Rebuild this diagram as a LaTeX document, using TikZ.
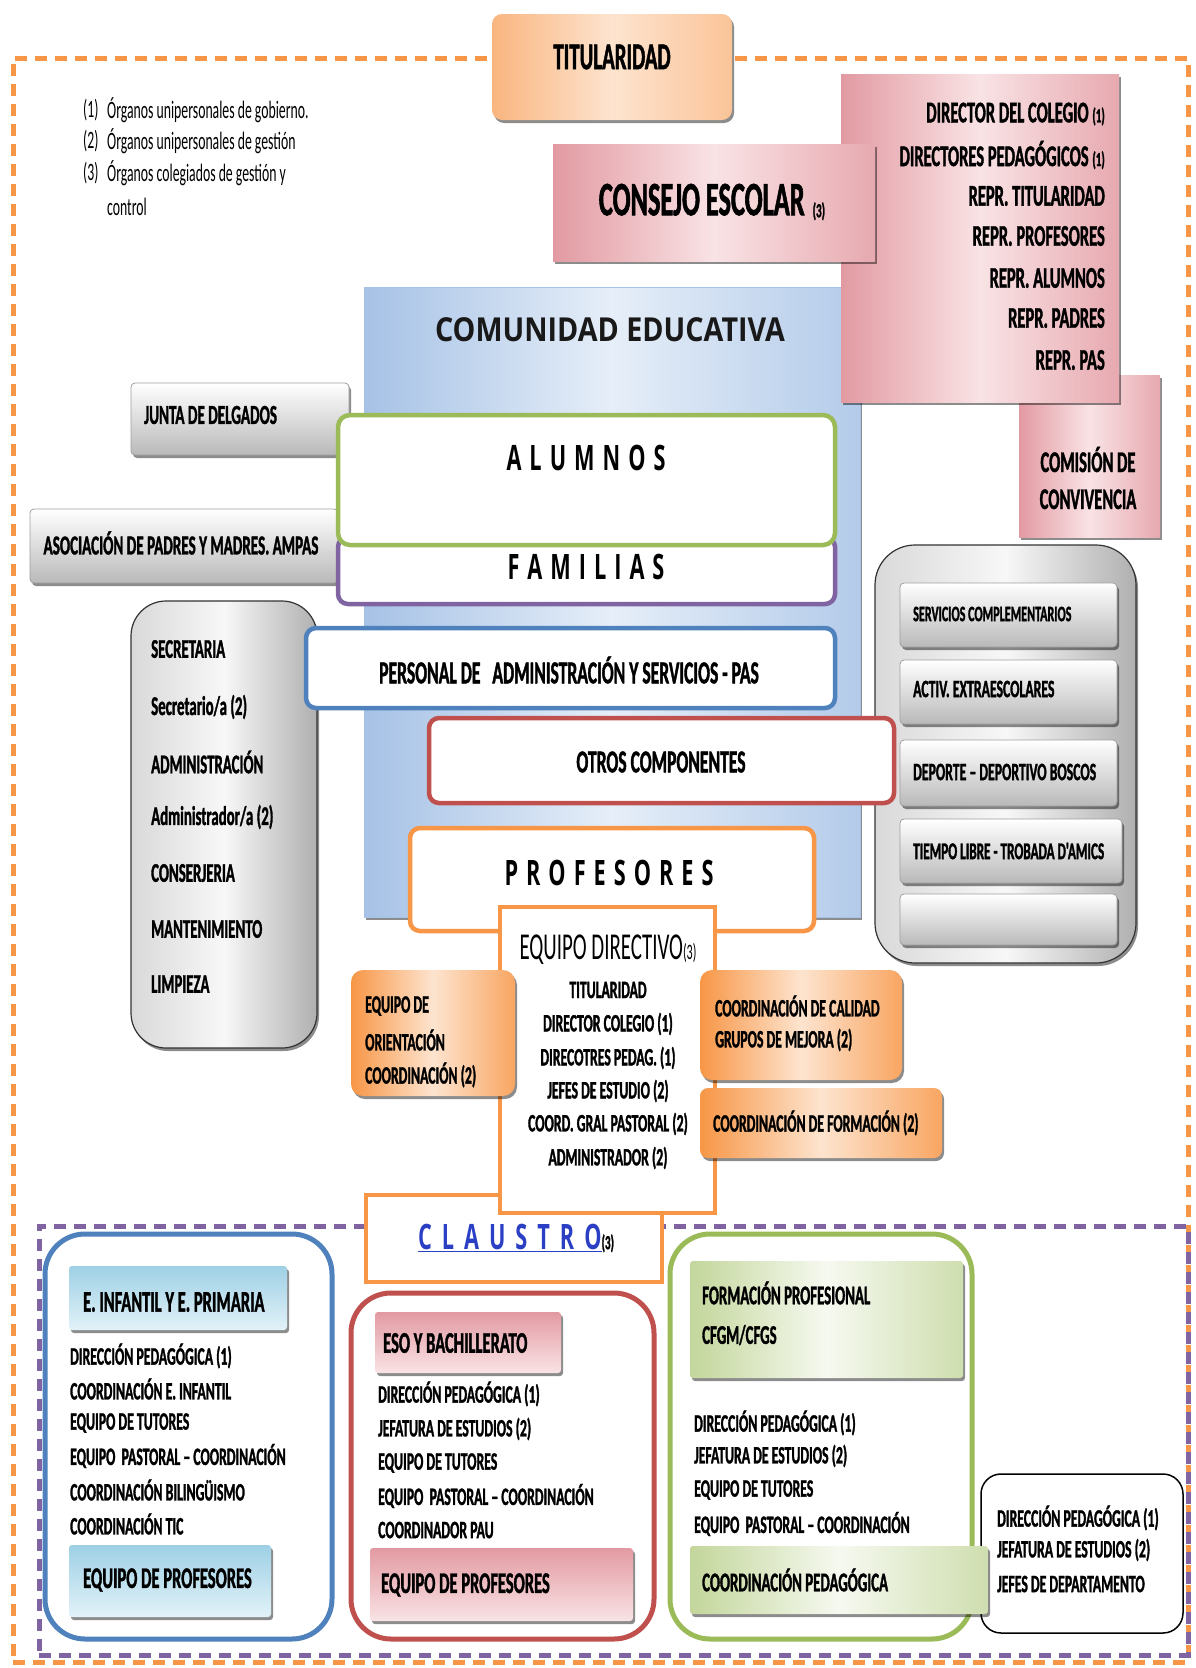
\documentclass[tikz,border=0pt]{standalone}
\usepackage{fontspec}
\usepackage{graphicx}
\usetikzlibrary{shadows,fit}
\newfontfamily\cfont{Carlito}[FakeStretch=0.55, BoldFeatures={FakeBold=1.2}]
\newfontfamily\ofont[FakeStretch=0.62]{Open Sans}
\newfontfamily\owfont[FakeStretch=0.87]{Open Sans}
\definecolor{orD}{HTML}{F79646}
\definecolor{orL}{HTML}{FDE4CF}
\definecolor{orM}{HTML}{F9B57F}
\definecolor{pkD}{HTML}{E29AA2}
\definecolor{pkL}{HTML}{F9E3E5}
\definecolor{blB}{HTML}{4F81BD}
\definecolor{blL}{HTML}{A6C2E6}
\definecolor{blW}{HTML}{E6EEF8}
\definecolor{grB}{HTML}{9BBB59}
\definecolor{grL}{HTML}{C3D69B}
\definecolor{puB}{HTML}{8064A2}
\definecolor{rdB}{HTML}{C0504D}
\definecolor{clB}{HTML}{2B3FC4}
\definecolor{cyD}{HTML}{9ED0E5}
\definecolor{cyL}{HTML}{E2F2F8}
\newcommand\gp{\hspace{8pt}}
\newcommand\gq{\hspace{10pt}}
\newcommand\sm[1]{{\fontsize{20}{20}\selectfont #1}}
\newcommand\bx[6]{\node[#1, fit={(#3,#4) (#5,#6)}] (#2) {};}
\tikzset{
  box/.style={rectangle, inner sep=0pt, outer sep=0pt},
  txt/.style={inner sep=0pt, font=\cfont\bfseries\fontsize{#1}{#1}\selectfont},
  rtxt/.style={inner sep=0pt, font=\cfont\fontsize{#1}{#1}\selectfont},
  shd/.style={drop shadow={shadow xshift=2pt, shadow yshift=-3pt, opacity=.45, fill=black}},
  orangebox/.style={box, rounded corners=12, left color=orD, right color=orD!85, middle color=orL, shd},
  peachbox/.style={box, rounded corners=10, left color=orM, right color=orM!80!white, middle color=orL, shd},
  pinkbox/.style={box, left color=pkD, right color=pkD!85, middle color=pkL, shd},
  graybar/.style={box, rounded corners=4, top color=white, bottom color=gray!55, draw=gray!75, line width=0.8pt, shd},
  graycont/.style={box, rounded corners=#1, left color=gray!30, right color=gray!62, middle color=gray!6, draw=black!80, line width=1.2pt, shd},
  outl/.style={box, fill=white, draw=#1, line width=4.5pt},
  routl/.style={box, fill=white, draw=#1, line width=4.5pt, rounded corners=10},
  groupbox/.style={box, draw=#1, line width=5pt, rounded corners=40},
  cyanbar/.style={box, rounded corners=3, top color=cyD, bottom color=cyL, shd},
  pinkbar/.style={box, rounded corners=3, top color=pkD, bottom color=pkL, shd},
  greenbar/.style={box, rounded corners=3, left color=grL, right color=grL!80, middle color=grL!15, shd},
  dashframe/.style={draw=#1, line width=5pt, dash pattern=on 12pt off 8pt}
}
\begin{document}
\begin{tikzpicture}[x=1pt, y=-1pt]
\useasboundingbox (0,0) rectangle (1195,1668);
\fill[white] (0,0) rectangle (1195,1668);

% outer orange dashed frame
\bx{box, dashframe=orD}{outer}{13}{58}{1188}{1662}

% comunidad educativa
\bx{box, left color=blL, right color=blL!85!white, middle color=blW, draw=blL, line width=1pt, shd}{comunidad}{364}{287}{860}{917}
\node[inner sep=0pt, font=\owfont\bfseries\fontsize{33}{33}\selectfont, text=black!90] (comtxt) at (610,330) {COMUNIDAD EDUCATIVA};

% consejo escolar group
\bx{pinkbox}{comision}{1019}{375}{1160}{537}
\node[txt=30, align=center, font=\cfont\bfseries\fontsize{30}{37}\selectfont] (comtx) at (1088,478) {COMISIÓN DE\\CONVIVENCIA};
\bx{pinkbox}{members}{841}{74}{1119}{402}
\foreach \t/\yy [count=\i] in {DIRECTOR DEL COLEGIO \sm{(1)}/114, DIRECTORES PEDAGÓGICOS \sm{(1)}/155, REPR. TITULARIDAD/196, REPR. PROFESORES/236, REPR. ALUMNOS/278, REPR. PADRES/318, REPR. PAS/360}
  \node[txt=30, anchor=east] (m\i) at (1105,\yy) {\t};
\bx{pinkbox}{consejo}{553}{144}{875}{261}
\node[txt=48] (consejotx) at (712,202) {CONSEJO ESCOLAR\,\raisebox{-2pt}{\sm{(3)}}};

% titularidad
\bx{peachbox}{titular}{492}{14}{732}{120}
\node[txt=38] (titulartx) at (612,57) {TITULARIDAD};

% legend
\foreach \n/\t/\yy [count=\i] in {(1)/Órganos unipersonales de gobierno./110, (2)/Órganos unipersonales de gestión/141, (3)/Órganos colegiados de gestión y/173}{
  \node[rtxt=25, anchor=west] (ln\i) at (83,\yy) {\n};
  \node[rtxt=25, anchor=west] (lt\i) at (107,\yy) {\t};
}
\node[rtxt=25, anchor=west] (lt4) at (107,207) {control};

% left gray boxes
\bx{graybar}{junta}{131}{383}{349}{455}
\node[txt=27.5, anchor=west] (juntatx) at (144,415) {JUNTA DE DELGADOS};
\bx{graybar}{ampas}{30}{509}{338}{583}
\node[txt=27.5] (ampastx) at (181,543) {ASOCIACIÓN DE PADRES Y MADRES. AMPAS};
\bx{graycont=35}{secret}{131}{601}{317}{1048}
\node[txt=27, anchor=west] (s1) at (151,649) {SECRETARIA};
\node[txt=27, anchor=west] (s2) at (151,707) {Secretario/a (2)};
\node[txt=27, anchor=west] (s3) at (151,762) {ADMINISTRACIÓN};
\node[txt=27, anchor=west] (s4) at (151,817) {Administrador/a (2)};
\node[txt=27, anchor=west] (s5) at (151,873) {CONSERJERIA};
\node[txt=27, anchor=west] (s6) at (151,929) {MANTENIMIENTO};
\node[txt=27, anchor=west] (s7) at (151,984) {LIMPIEZA};

% familias / alumnos
\bx{routl=puB}{familias}{338}{537}{835}{604}
\node[inner sep=0pt, font=\ofont\bfseries\fontsize{35}{35}\selectfont] (famtx) at (586,567) {F\gp A\gp M\gp I\gp L\gp I\gp A\gp S};
\bx{routl=grB, rounded corners=12}{alumnos}{338}{415}{835}{545}
\node[inner sep=0pt, font=\ofont\bfseries\fontsize{35}{35}\selectfont] (alutx) at (586,458) {A\gp L\gp U\gp M\gp N\gp O\gp S};

% right container
\bx{graycont=40}{servicios}{875}{545}{1136}{963}
\bx{graybar}{b1}{900}{583}{1117}{647}
\node[txt=22, anchor=west] (b1tx) at (913,614) {SERVICIOS COMPLEMENTARIOS};
\bx{graybar}{b2}{900}{660}{1117}{724}
\node[txt=25, anchor=west] (b2tx) at (913,689) {ACTIV. EXTRAESCOLARES};
\bx{graybar}{b3}{900}{740}{1117}{806}
\node[txt=25, anchor=west] (b3tx) at (913,772) {DEPORTE – DEPORTIVO BOSCOS};
\bx{graybar}{b4}{900}{819}{1122}{883}
\node[txt=24, anchor=west] (b4tx) at (913,851) {TIEMPO LIBRE - TROBADA D'AMICS};
\bx{graybar}{b5}{900}{894}{1117}{945}

% PAS, otros
\bx{routl=blB}{pas}{306}{628}{835}{708}
\node[txt=32] (pastx) at (569,670) {PERSONAL DE \ \ ADMINISTRACIÓN Y SERVICIOS - PAS};
\bx{routl=rdB}{otros}{429}{718}{894}{803}
\node[txt=32] (otrostx) at (661,762) {OTROS COMPONENTES};

% profesores
\bx{routl=orD}{profesores}{410}{828}{814}{931}
\node[inner sep=0pt, font=\ofont\bfseries\fontsize{35}{35}\selectfont] (proftx) at (609,873) {P\gp R\gp O\gp F\gp E\gp S\gp O\gp R\gp E\gp S};

% purple dashed frame
\bx{box, dashframe=puB}{claustroframe}{39}{1226}{1188}{1655}

% claustro
\bx{outl=orD}{claustro}{366}{1195}{662}{1282}
\node[inner sep=0pt] (claustrotx) at (516,1238) {\ofont\bfseries\fontsize{35}{35}\selectfont\textcolor{clB}{\underline{C\gq L\gq A\gq U\gq S\gq T\gq R\gq O}}{\cfont\bfseries\fontsize{20}{20}\selectfont(3)}};

% equipo directivo
\bx{outl=orD}{directivo}{500}{907}{715}{1213}
\node[inner sep=0pt] (dirtitle) at (608,950) {\cfont\fontsize{38}{38}\selectfont EQUIPO DIRECTIVO{\fontsize{22}{22}\selectfont(3)}};
\foreach \t/\yy [count=\i] in {TITULARIDAD/990, DIRECTOR COLEGIO (1)/1024, DIRECOTRES PEDAG. (1)/1058, JEFES DE ESTUDIO (2)/1091, COORD. GRAL PASTORAL (2)/1124, ADMINISTRADOR (2)/1158}
  \node[txt=25] (d\i) at (608,\yy) {\t};

% orange side boxes
\bx{orangebox}{orient}{351}{970}{515}{1096}
\node[txt=25, anchor=west] (o1) at (365,1006) {EQUIPO DE};
\node[txt=25, anchor=west] (o2) at (365,1040) {ORIENTACIÓN};
\node[txt=25, anchor=west] (o3) at (365,1075) {COORDINACIÓN (2)};
\bx{orangebox}{calidad}{700}{970}{902}{1080}
\node[txt=25, anchor=west] (c1) at (715,1006) {COORDINACIÓN DE CALIDAD};
\node[txt=25, anchor=west] (c2) at (715,1040) {GRUPOS DE MEJORA (2)};
\bx{orangebox, rounded corners=8}{formacion}{700}{1088}{942}{1158}
\node[txt=25, anchor=west] (f1) at (713,1123) {COORDINACIÓN DE FORMACIÓN (2)};

% bottom: infantil / primaria
\bx{groupbox=blB}{infantil}{45}{1234}{332}{1639}
\bx{cyanbar}{infbar}{69}{1266}{287}{1330}
\node[txt=30, anchor=west] (inftx) at (83,1302) {E. INFANTIL Y E. PRIMARIA};
\foreach \t/\yy [count=\i] in {DIRECCIÓN PEDAGÓGICA (1)/1356, COORDINACIÓN E. INFANTIL/1389, EQUIPO DE TUTORES/1423, EQUIPO \ PASTORAL – COORDINACIÓN/1456, COORDINACIÓN BILINGÜISMO/1490, COORDINACIÓN TIC/1524}
  \node[txt=25, anchor=west] (i\i) at (70,\yy) {\t};
\bx{cyanbar}{infprof}{69}{1545}{271}{1617}
\node[txt=30, anchor=west] (infproftx) at (83,1580) {EQUIPO DE PROFESORES};

% ESO y bachillerato
\bx{groupbox=rdB}{eso}{351}{1293}{654}{1639}
\bx{pinkbar}{esobar}{375}{1312}{561}{1373}
\node[txt=30, anchor=west] (esotx) at (383,1343) {ESO Y BACHILLERATO};
\foreach \t/\yy [count=\i] in {DIRECCIÓN PEDAGÓGICA (1)/1394, JEFATURA DE ESTUDIOS (2)/1429, EQUIPO DE TUTORES/1463, EQUIPO \ PASTORAL – COORDINACIÓN/1496, COORDINADOR PAU/1530}
  \node[txt=25, anchor=west] (e\i) at (378,\yy) {\t};
\bx{pinkbar}{esoprof}{370}{1548}{633}{1621}
\node[txt=30, anchor=west] (esoproftx) at (381,1585) {EQUIPO DE PROFESORES};

% formacion profesional
\bx{groupbox=grB}{fp}{670}{1234}{972}{1639}
\bx{greenbar}{fpbar}{690}{1261}{963}{1378}
\node[txt=27, anchor=west] (fp1) at (702,1293) {FORMACIÓN PROFESIONAL};
\node[txt=27, anchor=west] (fp2) at (702,1335) {CFGM/CFGS};
\foreach \t/\yy [count=\i] in {DIRECCIÓN PEDAGÓGICA (1)/1423, JEFATURA DE ESTUDIOS (2)/1456, EQUIPO DE TUTORES/1490, EQUIPO \ PASTORAL – COORDINACIÓN/1524}
  \node[txt=25, anchor=west] (p\i) at (694,\yy) {\t};

% coordinacion pedagogica box
\bx{box, draw=black, line width=1.5pt, rounded corners=20, fill=white}{coordped}{981}{1474}{1183}{1633}
\foreach \t/\yy [count=\i] in {DIRECCIÓN PEDAGÓGICA (1)/1518, JEFATURA DE ESTUDIOS (2)/1550, JEFES DE DEPARTAMENTO/1584}
  \node[txt=25, anchor=west] (k\i) at (997,\yy) {\t};
\bx{greenbar}{cpbar}{690}{1546}{988}{1614}
\node[txt=27, anchor=west] (cptx) at (702,1580) {COORDINACIÓN PEDAGÓGICA};
\end{tikzpicture}
\end{document}
